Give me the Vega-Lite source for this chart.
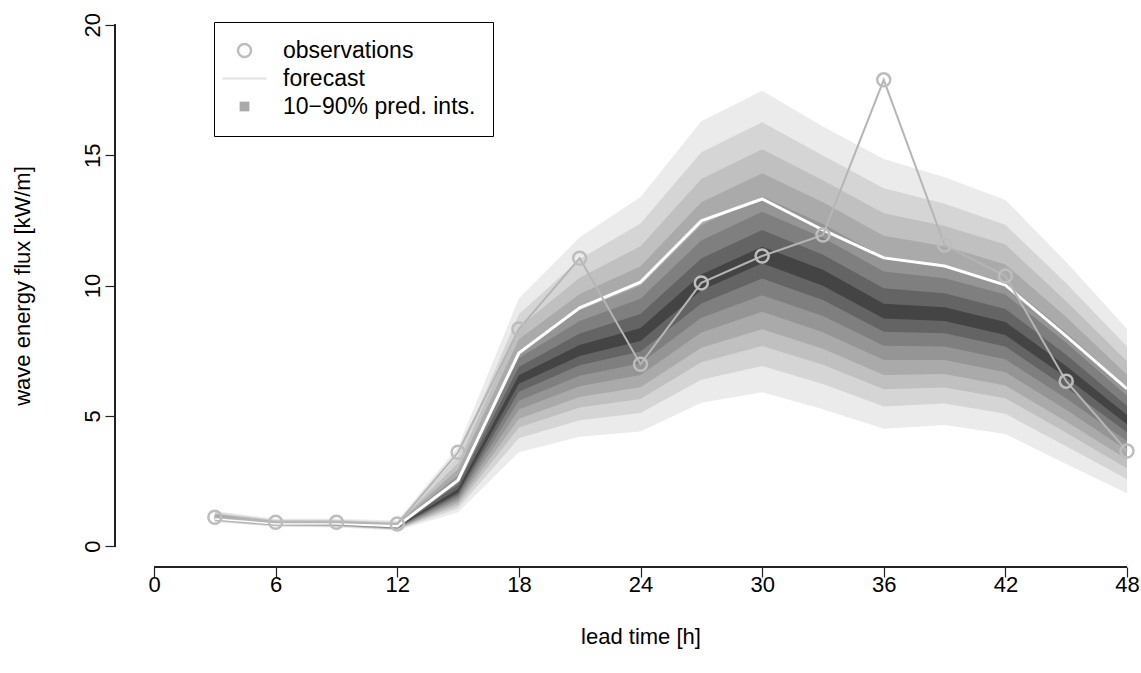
{
  "$schema": "https://vega.github.io/schema/vega-lite/v6.json",
  "width": 1026,
  "height": 563,
  "autosize": {"type": "none"},
  "padding": {"left": 115, "top": 4, "right": 0, "bottom": 106},
  "background": "white",
  "config": {
    "view": {"stroke": null},
    "font": "Liberation Sans",
    "axis": {
      "grid": false,
      "domain": false,
      "tickColor": "#222222",
      "tickSize": 10,
      "tickWidth": 1.2,
      "labelColor": "#000000",
      "titleColor": "#000000",
      "labelFont": "Liberation Sans",
      "titleFont": "Liberation Sans",
      "labelFontSize": 22,
      "titleFontSize": 22,
      "titleFontWeight": "normal"
    },
    "legend": {
      "orient": "none",
      "legendX": 99,
      "legendY": 18,
      "strokeColor": "#000000",
      "padding": 17,
      "labelFont": "Liberation Sans",
      "labelFontSize": 23,
      "labelColor": "#000000",
      "labelOffset": 27,
      "labelLimit": 400,
      "symbolOffset": 2,
      "symbolSize": 169,
      "symbolOpacity": 1,
      "rowPadding": 4,
      "symbolStrokeWidth": 2.5
    }
  },
  "data": {
    "values": [
      {"t": 3, "obs": 1.11, "fc": 1.07, "q10": 0.92, "q15": 0.95, "q20": 0.97, "q25": 0.99, "q30": 1.01, "q35": 1.03, "q40": 1.04, "q45": 1.06, "q55": 1.08, "q60": 1.11, "q65": 1.14, "q70": 1.17, "q75": 1.21, "q80": 1.25, "q85": 1.3, "q90": 1.35},
      {"t": 6, "obs": 0.92, "fc": 0.88, "q10": 0.74, "q15": 0.76, "q20": 0.78, "q25": 0.8, "q30": 0.81, "q35": 0.83, "q40": 0.84, "q45": 0.85, "q55": 0.87, "q60": 0.89, "q65": 0.91, "q70": 0.93, "q75": 0.95, "q80": 0.98, "q85": 1.01, "q90": 1.05},
      {"t": 9, "obs": 0.92, "fc": 0.88, "q10": 0.72, "q15": 0.75, "q20": 0.76, "q25": 0.78, "q30": 0.8, "q35": 0.81, "q40": 0.83, "q45": 0.84, "q55": 0.86, "q60": 0.88, "q65": 0.9, "q70": 0.92, "q75": 0.95, "q80": 0.98, "q85": 1.01, "q90": 1.05},
      {"t": 12, "obs": 0.85, "fc": 0.77, "q10": 0.6, "q15": 0.63, "q20": 0.65, "q25": 0.66, "q30": 0.68, "q35": 0.7, "q40": 0.72, "q45": 0.73, "q55": 0.75, "q60": 0.78, "q65": 0.8, "q70": 0.83, "q75": 0.86, "q80": 0.89, "q85": 0.93, "q90": 0.98},
      {"t": 15, "obs": 3.6, "fc": 2.53, "q10": 1.3, "q15": 1.45, "q20": 1.57, "q25": 1.67, "q30": 1.77, "q35": 1.87, "q40": 1.96, "q45": 2.05, "q55": 2.19, "q60": 2.36, "q65": 2.55, "q70": 2.71, "q75": 2.95, "q80": 3.19, "q85": 3.47, "q90": 3.8},
      {"t": 18, "obs": 8.33, "fc": 7.41, "q10": 3.6, "q15": 4.14, "q20": 4.55, "q25": 4.89, "q30": 5.24, "q35": 5.58, "q40": 5.92, "q45": 6.23, "q55": 6.56, "q60": 6.87, "q65": 7.22, "q70": 7.5, "q75": 7.94, "q80": 8.4, "q85": 8.9, "q90": 9.5},
      {"t": 21, "obs": 11.05, "fc": 9.14, "q10": 4.2, "q15": 4.83, "q20": 5.32, "q25": 5.72, "q30": 6.13, "q35": 6.54, "q40": 6.94, "q45": 7.3, "q55": 7.72, "q60": 8.16, "q65": 8.64, "q70": 9.05, "q75": 9.67, "q80": 10.3, "q85": 11.01, "q90": 11.85},
      {"t": 24, "obs": 6.98, "fc": 10.13, "q10": 4.4, "q15": 5.11, "q20": 5.65, "q25": 6.1, "q30": 6.57, "q35": 7.02, "q40": 7.47, "q45": 7.87, "q55": 8.37, "q60": 8.91, "q65": 9.49, "q70": 9.99, "q75": 10.74, "q80": 11.51, "q85": 12.38, "q90": 13.4},
      {"t": 27, "obs": 10.1, "fc": 12.48, "q10": 5.5, "q15": 6.38, "q20": 7.06, "q25": 7.61, "q30": 8.2, "q35": 8.76, "q40": 9.31, "q45": 9.82, "q55": 10.42, "q60": 11.04, "q65": 11.73, "q70": 12.31, "q75": 13.19, "q80": 14.09, "q85": 15.11, "q90": 16.3},
      {"t": 30, "obs": 11.13, "fc": 13.32, "q10": 5.9, "q15": 6.91, "q20": 7.68, "q25": 8.32, "q30": 8.99, "q35": 9.63, "q40": 10.27, "q45": 10.85, "q55": 11.49, "q60": 12.13, "q65": 12.83, "q70": 13.41, "q75": 14.31, "q80": 15.23, "q85": 16.26, "q90": 17.47},
      {"t": 33, "obs": 11.94, "fc": 12.13, "q10": 5.25, "q15": 6.22, "q20": 6.96, "q25": 7.57, "q30": 8.21, "q35": 8.83, "q40": 9.44, "q45": 9.99, "q55": 10.6, "q60": 11.18, "q65": 11.83, "q70": 12.36, "q75": 13.19, "q80": 14.04, "q85": 14.99, "q90": 16.1},
      {"t": 36, "obs": 17.89, "fc": 11.06, "q10": 4.5, "q15": 5.36, "q20": 6.02, "q25": 6.57, "q30": 7.14, "q35": 7.69, "q40": 8.23, "q45": 8.73, "q55": 9.3, "q60": 9.89, "q65": 10.54, "q70": 11.08, "q75": 11.91, "q80": 12.77, "q85": 13.73, "q90": 14.85},
      {"t": 39, "obs": 11.55, "fc": 10.75, "q10": 4.65, "q15": 5.47, "q20": 6.09, "q25": 6.6, "q30": 7.14, "q35": 7.66, "q40": 8.17, "q45": 8.64, "q55": 9.17, "q60": 9.7, "q65": 10.28, "q70": 10.77, "q75": 11.51, "q80": 12.28, "q85": 13.14, "q90": 14.15},
      {"t": 42, "obs": 10.36, "fc": 10.02, "q10": 4.3, "q15": 5.08, "q20": 5.67, "q25": 6.16, "q30": 6.67, "q35": 7.17, "q40": 7.66, "q45": 8.1, "q55": 8.6, "q60": 9.1, "q65": 9.65, "q70": 10.11, "q75": 10.81, "q80": 11.57, "q85": 12.33, "q90": 13.28},
      {"t": 45, "obs": 6.33, "fc": 8.06, "q10": 3.15, "q15": 3.83, "q20": 4.35, "q25": 4.78, "q30": 5.23, "q35": 5.66, "q40": 6.09, "q45": 6.48, "q55": 6.91, "q60": 7.34, "q65": 7.8, "q70": 8.2, "q75": 8.79, "q80": 9.4, "q85": 10.09, "q90": 10.9},
      {"t": 48, "obs": 3.65, "fc": 6.03, "q10": 2.03, "q15": 2.57, "q20": 2.98, "q25": 3.32, "q30": 3.68, "q35": 4.03, "q40": 4.37, "q45": 4.68, "q55": 5.03, "q60": 5.38, "q65": 5.77, "q70": 6.09, "q75": 6.58, "q80": 7.09, "q85": 7.66, "q90": 8.33}
    ]
  },
  "encoding": {
    "x": {
      "field": "t",
      "type": "quantitative",
      "scale": {"domain": [-1.924, 48.69], "nice": false, "zero": false},
      "axis": {
        "values": [0, 6, 12, 18, 24, 30, 36, 42, 48],
        "title": "lead time [h]",
        "labelPadding": -3,
        "titleX": 525.5,
        "titleY": 69,
        "titleAlign": "center",
        "titleBaseline": "middle"
      }
    }
  },
  "layer": [
    {"mark": {"type": "area", "color": "#ebebeb"}, "encoding": {"y": {"field": "q10", "type": "quantitative", "scale": {"domain": [-0.8, 20.8], "nice": false, "zero": false}, "axis": {"values": [0, 5, 10, 15, 20], "title": "wave energy flux [kW/m]", "labelAngle": -90, "labelAlign": "center", "labelBaseline": "bottom", "labelPadding": 1, "titleAngle": -90, "titleX": -93, "titleY": 281.5, "titleAlign": "center", "titleBaseline": "middle"}}, "y2": {"field": "q90"}}},
    {"mark": {"type": "area", "color": "#d5d5d5"}, "encoding": {"y": {"field": "q15", "type": "quantitative"}, "y2": {"field": "q85"}}},
    {"mark": {"type": "area", "color": "#c0c0c0"}, "encoding": {"y": {"field": "q20", "type": "quantitative"}, "y2": {"field": "q80"}}},
    {"mark": {"type": "area", "color": "#aaaaaa"}, "encoding": {"y": {"field": "q25", "type": "quantitative"}, "y2": {"field": "q75"}}},
    {"mark": {"type": "area", "color": "#959595"}, "encoding": {"y": {"field": "q30", "type": "quantitative"}, "y2": {"field": "q70"}}},
    {"mark": {"type": "area", "color": "#7f7f7f"}, "encoding": {"y": {"field": "q35", "type": "quantitative"}, "y2": {"field": "q65"}}},
    {"mark": {"type": "area", "color": "#646464"}, "encoding": {"y": {"field": "q40", "type": "quantitative"}, "y2": {"field": "q60"}}},
    {"mark": {"type": "area", "color": "#444444"}, "encoding": {"y": {"field": "q45", "type": "quantitative"}, "y2": {"field": "q55"}}},
    {"mark": {"type": "line", "color": "#ffffff", "strokeWidth": 3}, "encoding": {"y": {"field": "fc", "type": "quantitative"}}},
    {"mark": {"type": "line", "color": "#b5b5b5", "strokeWidth": 2}, "encoding": {"y": {"field": "obs", "type": "quantitative"}}},
    {
      "mark": {"type": "point", "filled": false, "strokeWidth": 2.5, "size": 169, "opacity": 1},
      "encoding": {
        "y": {"field": "obs", "type": "quantitative"},
        "shape": {
          "datum": "observations",
          "type": "nominal",
          "scale": {"domain": ["observations", "forecast", "10−90% pred. ints."], "range": ["circle", "M-3.4,0H3.4", "M-0.75,-0.75H0.75V0.75H-0.75Z"]},
          "legend": {"title": null}
        },
        "stroke": {
          "datum": "observations",
          "type": "nominal",
          "scale": {"domain": ["observations", "forecast", "10−90% pred. ints."], "range": ["#bdbdbd", "#e6e6e6", "transparent"]},
          "legend": {"title": null}
        },
        "fill": {
          "datum": "observations",
          "type": "nominal",
          "scale": {"domain": ["observations", "forecast", "10−90% pred. ints."], "range": ["transparent", "transparent", "#aaaaaa"]},
          "legend": {"title": null}
        }
      }
    },
    {"mark": {"type": "rule", "color": "#222222", "strokeWidth": 1.2}, "encoding": {"x": {"datum": 0}, "x2": {"datum": 48}, "y": {"datum": -0.8}}},
    {"mark": {"type": "rule", "color": "#222222", "strokeWidth": 1.2}, "encoding": {"x": {"datum": -1.924}, "y": {"datum": 0}, "y2": {"datum": 20}}}
  ]
}
